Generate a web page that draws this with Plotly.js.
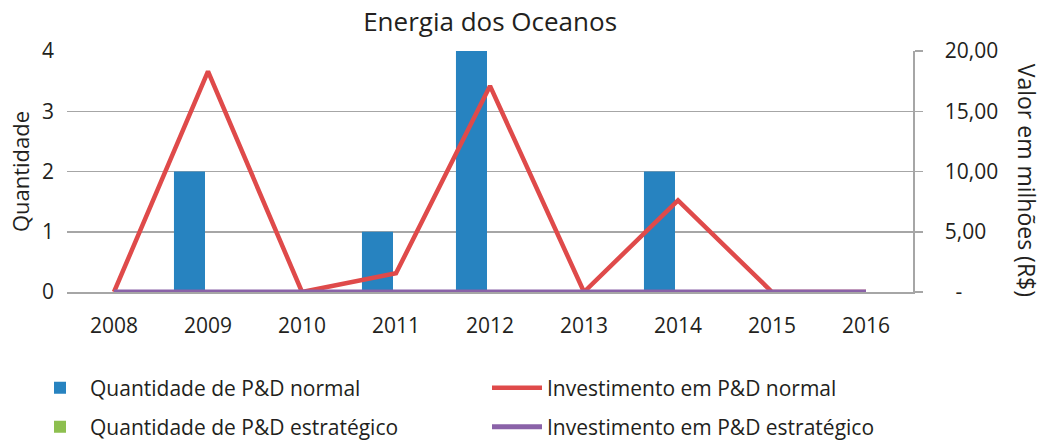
<!DOCTYPE html>
<html>
<head>
<meta charset="utf-8">
<script src="https://cdn.plot.ly/plotly-3.0.1.min.js"></script>
<style>html,body{margin:0;padding:0;background:#fff;}#chart{width:1045px;height:442px;}</style>
</head>
<body>
<div id="chart"></div>
<script>
const years = ['2008','2009','2010','2011','2012','2013','2014','2015','2016'];
const qtdNormal = [0, 2, 0, 1, 4, 0, 2, 0, 0];
const qtdEstrategico = [0, 0, 0, 0, 0, 0, 0, 0, 0];
const invNormal = [0, 18.3, 0, 1.55, 17.1, 0, 7.6, 0, 0];
const invEstrategico = [0, 0, 0, 0, 0, 0, 0, 0, 0];
const leftTicks = [0, 1, 2, 3, 4];
const rightTickVals = [0, 5, 10, 15, 20];
const rightTickText = ['\u00a0\u00a0-', '5,00', '10,00', '15,00', '20,00'];

const textColor = '#231F20';
const gridColor = '#A6A6A6';
const font = 'Open Sans, Noto Sans, sans-serif';

const traces = [
  {type:'bar', x: years, y: qtdNormal, name:'Quantidade de P&D normal',
   marker:{color:'#2783C0', line:{width:0}}, legend:'legend', yaxis:'y'},
  {type:'scatter', mode:'lines', x: years, y: invNormal, name:'Investimento em P&D normal',
   line:{color:'#DF4A4A', width:4.5}, legend:'legend2', yaxis:'y2'},
  {type:'bar', x: years, y: qtdEstrategico, name:'Quantidade de P&D estratégico',
   marker:{color:'#8DBF4F', line:{width:0}}, legend:'legend3', yaxis:'y'},
  {type:'scatter', mode:'lines', x: years, y: invEstrategico, name:'Investimento em P&D estratégico',
   line:{color:'#8A62A8', width:5}, legend:'legend4', yaxis:'y2'}
];

function mkLegend(px, py) {
  return {
    orientation:'h', xref:'container', yref:'container', xanchor:'left', yanchor:'middle',
    x: px / 1045, y: 1 - py / 442,
    font:{family:font, size:21, color:textColor}, itemwidth:50,
    bgcolor:'rgba(0,0,0,0)', borderwidth:0
  };
}

const layout = {
  width:1045, height:442,
  margin:{l:67, r:132, t:51, b:150},
  paper_bgcolor:'#fff', plot_bgcolor:'#fff',
  font:{family:font, color:textColor},
  title:{text:'Energia dos Oceanos', font:{family:font, size:26, color:textColor},
         x:0.469, xanchor:'center', y:0.95, yanchor:'middle'},
  barmode:'group', bargap:0.212, bargroupgap:0.162,
  xaxis:{type:'category', showgrid:false, showline:true, linecolor:gridColor, linewidth:1.5,
         layer:'below traces',
         ticks:'', tickfont:{family:font, size:21, color:textColor}, ticklabelstandoff:14,
         fixedrange:true},
  yaxis:{range:[0,4], tickvals:leftTicks, showgrid:true, gridcolor:gridColor, gridwidth:1.5,
         zeroline:false, showline:false, ticks:'', layer:'below traces',
         tickfont:{family:font, size:21, color:textColor}, ticklabelstandoff:12,
         title:{text:'Quantidade', font:{family:font, size:22, color:textColor}, standoff:6}},
  yaxis2:{range:[0,20], overlaying:'y', side:'right', tickvals:rightTickVals, ticktext:rightTickText,
          showgrid:false, zeroline:false, showline:true, linecolor:gridColor, linewidth:1.5,
          ticks:'outside', ticklen:8, tickcolor:gridColor, tickwidth:1.5, layer:'below traces',
          tickfont:{family:font, size:21, color:textColor}, ticklabelstandoff:18},
  legend: mkLegend(30, 388),
  legend2: mkLegend(487, 388),
  legend3: mkLegend(30, 427),
  legend4: mkLegend(487, 427),
  showlegend:true,
  annotations:[
    {text:'Valor em milhões (R$)', textangle:90, xref:'paper', yref:'paper',
     x:1.135, y:0.465, xanchor:'center', yanchor:'middle', showarrow:false,
     font:{family:font, size:23, color:textColor}}
  ]
};

Plotly.newPlot('chart', traces, layout, {displayModeBar:false, staticPlot:true});
</script>
</body>
</html>
